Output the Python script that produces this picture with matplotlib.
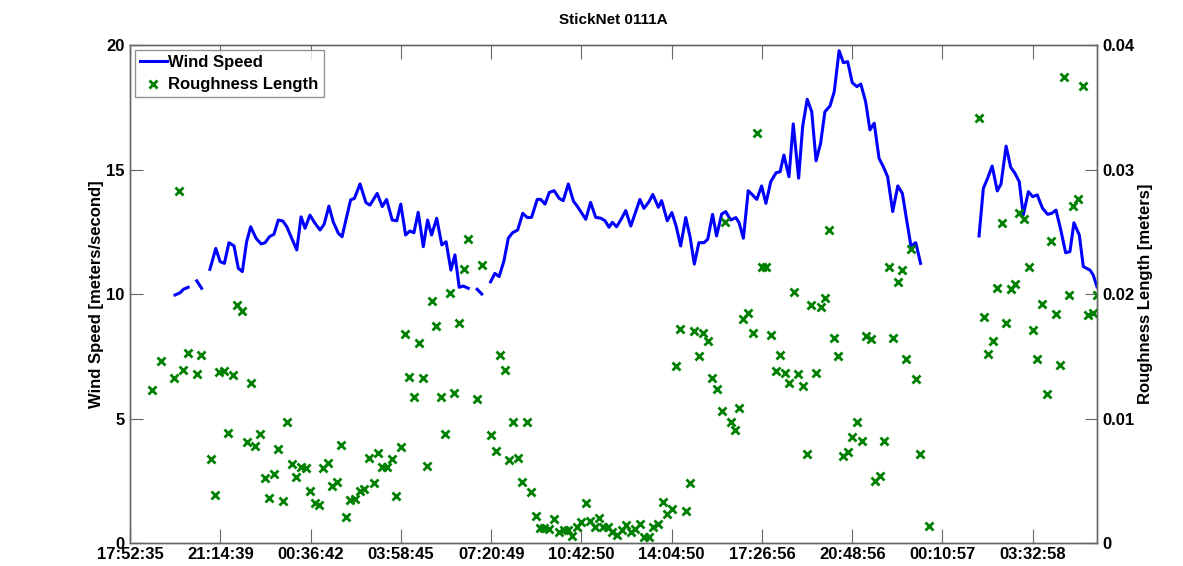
import numpy as np
import matplotlib
matplotlib.use("Agg")
import matplotlib.pyplot as plt

plt.rcParams['font.family'] = ['Liberation Sans', 'DejaVu Sans']
plt.rcParams['font.weight'] = 'bold'
plt.rcParams['font.size'] = 12

nan = np.nan

title = 'StickNet 0111A'
xtick_labels = ['17:52:35', '21:14:39', '00:36:42', '03:58:45', '07:20:49', '10:42:50',
                '14:04:50', '17:26:56', '20:48:56', '00:10:57', '03:32:58']
x_end = 36.07  # hours after first tick

# wind speed, hours since 17:52:35 (nan = missing data)
wind_t = [1.68, 1.87, 1.99, 2.17, 2.33, 2.49, 2.67, 2.82,
          2.98, 3.20, 3.36, 3.52, 3.69, 3.88, 4.04, 4.19, 4.35, 4.50, 4.70, 4.89,
          5.04, 5.20, 5.37, 5.53, 5.70, 5.85, 6.03, 6.22, 6.38, 6.53, 6.71, 6.90,
          7.09, 7.24, 7.42, 7.58, 7.77, 7.91, 8.08, 8.23, 8.37, 8.58, 8.80, 8.95,
          9.22, 9.41, 9.57, 9.78, 9.95, 10.10, 10.28, 10.44, 10.59, 10.75, 10.94,
          11.10, 11.25, 11.44, 11.63, 11.79, 11.97, 12.12, 12.28, 12.43, 12.62, 12.78,
          12.95, 13.12, 13.28,
          13.45, 13.61, 13.77, 13.95, 14.11, 14.27, 14.46, 14.65, 14.82, 14.98, 15.19,
          15.32, 15.48, 15.64, 15.82, 16.01, 16.16, 16.35, 16.54, 16.68, 17.00, 17.18,
          17.37, 17.57, 17.72, 17.87, 17.99, 18.15, 18.34, 18.49, 18.68, 18.84, 19.02,
          19.17, 19.36, 19.50, 19.71, 19.83, 20.04, 20.21, 20.37, 20.54, 20.73, 20.89,
          21.05, 21.22, 21.41, 21.55, 21.73, 21.88, 22.07, 22.22, 22.41, 22.60, 22.72,
          22.88, 23.06, 23.22, 23.38, 23.56, 23.72, 23.90, 24.10, 24.25, 24.39, 24.58,
          24.74, 24.94, 25.09, 25.26, 25.43, 25.59, 25.76, 25.92, 26.11, 26.27, 26.45,
          26.61, 26.77, 26.94, 27.11, 27.26, 27.44, 27.60, 27.76, 27.94, 28.10, 28.26,
          28.45, 28.64, 28.81, 28.97, 29.13, 29.31, 29.49, 30.50,
          31.67, 31.83, 31.99, 32.16, 32.35, 32.49, 32.68, 32.85, 33.01, 33.17, 33.32,
          33.51, 33.67, 33.84, 34.04, 34.23, 34.38, 34.54, 34.72, 34.90, 35.06, 35.21,
          35.41, 35.56, 35.81, 35.93, 36.07]
wind_v = [9.96, 10.05, 10.19, 10.27, nan, 10.53, 10.23, nan,
          10.99, 11.83, 11.30, 11.23, 12.06, 11.93, 11.03, 10.90, 12.10, 12.70, 12.24, 12.01,
          12.06, 12.30, 12.40, 12.97, 12.93, 12.70, 12.24, 11.77, 13.10, 12.64, 13.17, 12.84,
          12.57, 12.80, 13.53, 12.90, 12.44, 12.30, 13.10, 13.78, 13.84, 14.42, 13.67, 13.57,
          14.04, 13.51, 13.80, 12.97, 12.94, 13.61, 12.37, 12.53, 12.46, 13.28, 11.90,
          12.97, 12.37, 13.04, 11.97, 12.10, 10.96, 11.57, 10.27, 10.32, 10.23, nan,
          10.19, 10.00, nan,
          10.49, 10.83, 10.70, 11.34, 12.24, 12.46, 12.57, 13.24, 13.07, 13.08, 13.80,
          13.80, 13.61, 14.08, 14.15, 13.84, 13.75, 14.42, 13.73, 13.53, 13.00, 13.68,
          13.08, 13.04, 12.94, 12.68, 12.88, 12.70, 13.04, 13.35, 12.73, 13.24, 13.80,
          13.44, 13.71, 14.00, 13.48, 13.75, 12.94, 13.27, 12.73, 11.93, 13.07, 12.30,
          11.20, 12.06, 12.06, 12.20, 13.20, 12.33, 13.21, 13.31, 12.97, 13.07, 12.86,
          12.24, 14.15, 13.98, 13.80, 14.34, 13.64, 14.51, 14.87, 14.91, 15.58, 14.71,
          16.83, 14.65, 16.72, 17.82, 17.32, 15.35, 16.05, 17.32, 17.55, 18.13, 19.77,
          19.29, 19.33, 18.49, 18.33, 18.43, 17.72, 16.59, 16.86, 15.45, 15.11, 14.71,
          13.31, 14.34, 14.04, 12.97, 11.93, 12.06, 11.23, nan,
          12.33, 14.24, 14.65, 15.14, 14.14, 14.42, 15.94, 15.09, 14.85, 14.51, 13.17,
          14.11, 13.91, 13.98, 13.44, 13.20, 13.24, 13.37, 12.57, 11.66, 11.70, 12.86,
          12.37, 11.10, 10.96, 10.76, 10.29]

# roughness length [m], hours since 17:52:35
rough_t = [0.81, 1.15, 1.65, 1.83, 1.99, 2.15, 2.50, 2.66, 3.01, 3.18, 3.33, 3.51, 3.67,
           3.83, 4.00, 4.19, 4.35, 4.51, 4.67, 4.85, 5.02, 5.20, 5.36, 5.52, 5.70, 5.87,
           6.03, 6.20, 6.38, 6.55, 6.71, 6.90, 7.05, 7.21, 7.37, 7.53, 7.71, 7.88, 8.06,
           8.21, 8.39, 8.58, 8.74, 8.91, 9.09, 9.24, 9.41, 9.59, 9.76, 9.92, 10.10, 10.27,
           10.42, 10.59, 10.77, 10.92, 11.09, 11.25, 11.41, 11.59, 11.76, 11.94, 12.10,
           12.28, 12.46, 12.62, 12.94, 13.12, 13.45, 13.64, 13.80, 13.98, 14.14, 14.30,
           14.46, 14.61, 14.80, 14.96, 15.14, 15.29, 15.45, 15.63, 15.82, 16.00, 16.19,
           16.35, 16.50, 16.66, 16.82, 17.00, 17.16, 17.34, 17.50, 17.65, 17.82, 17.99,
           18.15, 18.34, 18.50, 18.68, 18.84, 19.02, 19.17, 19.36, 19.52, 19.71, 19.87,
           20.04, 20.21, 20.37, 20.53, 20.73, 20.89, 21.05, 21.21, 21.38, 21.55, 21.72,
           21.88, 22.07, 22.19, 22.41, 22.57, 22.73, 22.88, 23.06, 23.23, 23.40, 23.56,
           23.72, 23.91, 24.08, 24.25, 24.42, 24.59, 24.76, 24.93, 25.09, 25.26, 25.40,
           25.60, 25.76, 25.93, 26.08, 26.27, 26.42, 26.61, 26.77, 26.94, 27.11, 27.29,
           27.44, 27.63, 27.79, 27.98, 28.14, 28.30, 28.47, 28.64, 28.81, 28.95, 29.13,
           29.31, 29.47, 29.81, 31.67, 31.86, 32.02, 32.18, 32.35, 32.51, 32.67, 32.85,
           33.01, 33.17, 33.35, 33.52, 33.67, 33.84, 34.02, 34.19, 34.35, 34.53, 34.69,
           34.85, 35.02, 35.19, 35.37, 35.54, 35.74, 35.91, 36.06]
rough_z = [0.01229, 0.01462, 0.01328, 0.02830, 0.01390, 0.01529, 0.01357, 0.01508,
           0.00672, 0.00383, 0.01373, 0.01379, 0.00886, 0.01349, 0.01912, 0.01866,
           0.00809, 0.01288, 0.00779, 0.00873, 0.00524, 0.00364, 0.00554, 0.00757,
           0.00337, 0.00972, 0.00632, 0.00533, 0.00613, 0.00600, 0.00420, 0.00319,
           0.00305, 0.00600, 0.00640, 0.00458, 0.00492, 0.00787, 0.00206, 0.00345,
           0.00351, 0.00418, 0.00431, 0.00685, 0.00480, 0.00720, 0.00608, 0.00608,
           0.00672, 0.00380, 0.00769, 0.01679, 0.01336, 0.01175, 0.01604, 0.01325,
           0.00618, 0.01944, 0.01743, 0.01175, 0.00876, 0.02010, 0.01207, 0.01770,
           0.02198, 0.02442, 0.01154, 0.02233, 0.00867, 0.00739, 0.01510, 0.01390,
           0.00667, 0.00974, 0.00680, 0.00488, 0.00974, 0.00412, 0.00217, 0.00118,
           0.00118, 0.00110, 0.00193, 0.00091, 0.00104, 0.00104, 0.00056, 0.00131,
           0.00171, 0.00319, 0.00177, 0.00131, 0.00203, 0.00131, 0.00131, 0.00091,
           0.00064, 0.00104, 0.00145, 0.00086, 0.00110, 0.00153, 0.00051, 0.00051,
           0.00131, 0.00153, 0.00332, 0.00231, 0.00273, 0.01424, 0.01715, 0.00259,
           0.00484, 0.01700, 0.01504, 0.01689, 0.01625, 0.01323, 0.01237, 0.01060,
           0.02581, 0.00974, 0.00908, 0.01087, 0.01799, 0.01850, 0.01684, 0.03296,
           0.02214, 0.02219, 0.01671, 0.01384, 0.01510, 0.01363, 0.01283, 0.02014,
           0.01357, 0.01261, 0.00712, 0.01912, 0.01365, 0.01898, 0.01965, 0.02514,
           0.01644, 0.01502, 0.00699, 0.00733, 0.00849, 0.00974, 0.00822, 0.01663,
           0.01636, 0.00498, 0.00541, 0.00822, 0.02219, 0.01644, 0.02099, 0.02193,
           0.01476, 0.02359, 0.01317, 0.00715, 0.00137, 0.03411, 0.01818, 0.01516,
           0.01625, 0.02046, 0.02568, 0.01765, 0.02038, 0.02078, 0.02653, 0.02602,
           0.02214, 0.01711, 0.01476, 0.01917, 0.01197, 0.02428, 0.01837, 0.01430,
           0.03741, 0.01992, 0.02707, 0.02763, 0.03673, 0.01831, 0.01850, 0.01992]


def ticks_in_hours(labels):
    out, day, prev = [], 0, None
    for lab in labels:
        h, m, s = (int(p) for p in lab.split(':'))
        sec = h * 3600 + m * 60 + s
        if prev is not None and sec < prev:
            day += 1
        prev = sec
        out.append(day * 24 + sec / 3600.0)
    return [v - out[0] for v in out]


xticks = ticks_in_hours(xtick_labels)
edge = '#666666'

fig = plt.figure(figsize=(11.83, 5.66), dpi=100)
ax1 = fig.add_axes([0.1099, 0.0406, 0.8174, 0.8799])
ax2 = ax1.twinx()

l1, = ax1.plot(wind_t, wind_v, color='#0000ff', lw=2.2, label='Wind Speed')
l2, = ax2.plot(rough_t, rough_z, ls='none', marker='x', color='#008000',
               ms=6, mew=2.0, label='Roughness Length')

ax1.set_xlim(0, x_end)
ax1.set_ylim(0, 20)
ax2.set_ylim(0, 0.04)
ax1.set_yticks([0, 5, 10, 15, 20])
ax1.set_yticklabels(['0', '5', '10', '15', '20'])
ax2.set_yticks([0, 0.01, 0.02, 0.03, 0.04])
ax2.set_yticklabels(['0', '0.01', '0.02', '0.03', '0.04'])
ax1.set_xticks(xticks)
ax1.set_xticklabels(xtick_labels)

for ax in (ax1, ax2):
    for sp in ax.spines.values():
        sp.set_color(edge)
        sp.set_linewidth(1.0)
ax1.tick_params(axis='x', direction='in', length=10, color=edge, top=True, pad=3)
ax1.tick_params(axis='y', direction='in', length=9, color=edge, pad=4)
ax2.tick_params(axis='y', direction='in', length=9, color=edge, pad=4)

ax1.set_ylabel('Wind Speed [meters/second]', fontweight='bold', labelpad=1.5)
ax2.set_ylabel('Roughness Length [meters]', fontweight='bold', labelpad=2.5)
ax1.set_title(title, fontweight='bold', fontsize=11, pad=15)

leg = ax1.legend(handles=[l1, l2], loc='upper left', fancybox=False,
                 handlelength=1.6, handletextpad=0.1, borderpad=0.3,
                 labelspacing=0.45, borderaxespad=0.3, prop={'weight': 'bold'})
leg.get_frame().set_edgecolor('#777777')
leg.get_frame().set_linewidth(1.0)

fig.savefig('out.png', dpi=100)
